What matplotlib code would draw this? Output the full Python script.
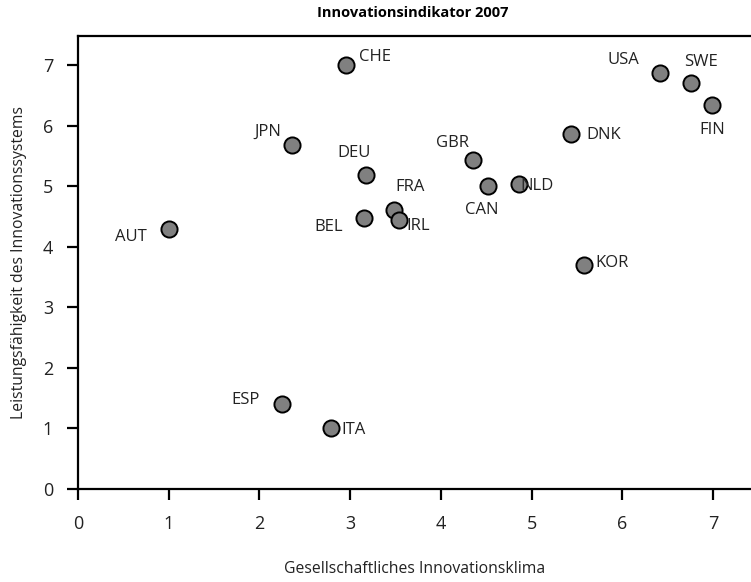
import numpy as np
import matplotlib
matplotlib.use("Agg")
import matplotlib.pyplot as plt

plt.rcParams["font.family"] = ["Open Sans", "DejaVu Sans"]

# -----------------------------
# Data
# -----------------------------
countries = ["CHE", "USA", "SWE", "FIN", "DNK", "JPN", "DEU", "GBR", "FRA",
             "BEL", "IRL", "CAN", "NLD", "AUT", "KOR", "ESP", "ITA"]
klima = [2.95, 6.42, 6.76, 6.99, 5.44, 2.36, 3.18, 4.35, 3.48,
         3.15, 3.54, 4.52, 4.86, 1.00, 5.58, 2.25, 2.79]
leistung = [7.00, 6.87, 6.70, 6.34, 5.87, 5.68, 5.19, 5.44, 4.60,
            4.48, 4.44, 5.01, 5.03, 4.29, 3.70, 1.41, 1.00]

x_ticks = [0, 1, 2, 3, 4, 5, 6, 7]
y_ticks = [0, 1, 2, 3, 4, 5, 6, 7]

# label placement: offset in pixels (dx, dy up) and horizontal alignment
label_style = {
    "CHE": (13, 8, "left"),
    "USA": (-21, 13, "right"),
    "SWE": (10, 21, "center"),
    "FIN": (0, -25, "center"),
    "DNK": (15, -1, "left"),
    "JPN": (-11, 13, "right"),
    "DEU": (-12, 22, "center"),
    "GBR": (-20, 17, "center"),
    "FRA": (16, 23, "center"),
    "BEL": (-21, -9, "right"),
    "IRL": (7, -6, "left"),
    "CAN": (-6, -24, "center"),
    "NLD": (2, -2, "left"),
    "AUT": (-22, -8, "right"),
    "KOR": (11, 2, "left"),
    "ESP": (-22, 4, "right"),
    "ITA": (10, -2, "left"),
}

# -----------------------------
# Plot
# -----------------------------
fig = plt.figure(figsize=(7.51, 5.82), dpi=100)
ax = fig.add_axes([78 / 751, 1 - 489 / 582, 1 - 78 / 751, (489 - 36) / 582])

ax.scatter(klima, leistung, s=135, facecolor="#808080", edgecolor="black",
           linewidth=1.4, zorder=3, clip_on=False)

px = 0.72  # pixel -> points at 100 dpi
for c, xv, yv in zip(countries, klima, leistung):
    dx, dy, ha = label_style[c]
    ax.annotate(c, (xv, yv), xytext=(dx * px, dy * px), textcoords="offset points",
                ha=ha, va="center", fontsize=12, color="#222222", zorder=4)

ax.set_xlim(0, 7.42)
ax.set_ylim(0, 7.48)
ax.set_xticks(x_ticks)
ax.set_yticks(y_ticks)
ax.set_xticklabels([str(t) for t in x_ticks])
ax.set_yticklabels([str(t) for t in y_ticks])

for side in ["left", "top", "bottom"]:
    ax.spines[side].set_linewidth(1.6)
ax.spines["right"].set_visible(False)

ax.tick_params(axis="both", direction="out", length=8, width=1.6,
               labelsize=13, pad=11, colors="black", labelcolor="#222222")
ax.tick_params(axis="y", pad=10)

ax.set_xlabel("Gesellschaftliches Innovationsklima", fontsize=11.3, labelpad=20,
              color="#222222")
ax.set_ylabel("Leistungsfähigkeit des Innovationssystems", fontsize=11.3, labelpad=11,
              color="#222222")
fig.text(413 / 751, 1 - 13 / 582, "Innovationsindikator 2007",
         ha="center", va="center", fontsize=10.5, fontweight="bold")

fig.savefig("out.png", dpi=100)
